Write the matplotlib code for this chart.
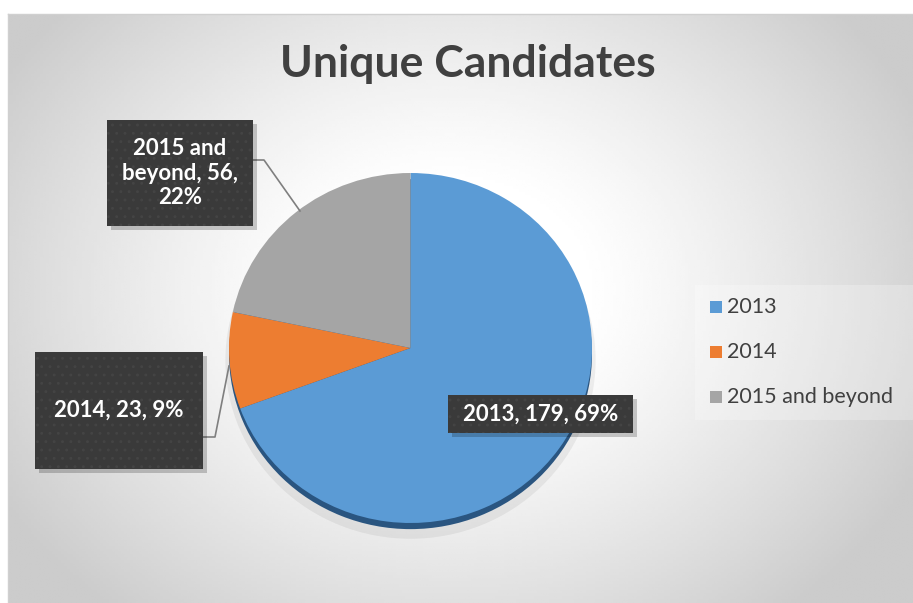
import numpy as np
import matplotlib
matplotlib.use('Agg')
import matplotlib.pyplot as plt
from matplotlib.patches import Rectangle

W, H = 913, 603

categories = ['2013', '2014', '2015 and beyond']
counts = [179, 23, 56]
colors = ['#5B9BD5', '#ED7D31', '#A5A5A5']
title = 'Unique Candidates'

plt.rcParams['font.family'] = ['Lato', 'DejaVu Sans']
plt.rcParams['hatch.linewidth'] = 0.9


def py(y):
    # pixel row (from top) to data y
    return H - y


fig = plt.figure(figsize=(W / 100, H / 100), dpi=100)
fig.patch.set_facecolor('white')
bg = fig.add_axes([0, 0, 1, 1])
bg.set_xlim(0, W)
bg.set_ylim(0, H)
bg.axis('off')

# radial background of the chart area
x0, y0, x1, y1 = 8, 14, W, H
xx, yy = np.meshgrid(np.linspace(x0, x1, 300), np.linspace(y0, y1, 200))
r = np.hypot((xx - 450) / 520, (yy - 290) / 420)
shade = 1 - 0.2 * np.clip((r - 0.25) / 0.75, 0, 1) ** 1.2
bg.imshow(shade, cmap='gray', vmin=0, vmax=1, extent=[x0, x1, py(y1), py(y0)],
          aspect='auto', zorder=0, interpolation='bilinear')
bg.plot([x0, x1], [py(y0), py(y0)], color='#d0d0d0', lw=1, zorder=1)
bg.plot([x0, x0], [py(y0), py(y1)], color='#d0d0d0', lw=1, zorder=1)

bg.text(468, py(64), title, ha='center', va='center', fontsize=32,
        fontweight='bold', color='#404040', zorder=5)

# legend backdrop
bg.add_patch(Rectangle((695, py(420)), 218, 135, facecolor='white', alpha=0.25,
                       lw=0, zorder=2))

# pie in its own axes so it can be slightly elliptical
pl, pt, pw, ph = 229, 173, 363, 350
pax = fig.add_axes([pl / W, (H - pt - ph) / H, pw / W, ph / H])
pax.axis('off')
# dark rim / shadow under the pie
pax.pie([1], colors=['#000000'], radius=1.02, center=(0.0, -0.07),
        wedgeprops=dict(linewidth=0, alpha=0.06))
pax.pie([1], colors=['#2a5580'], radius=1.0, center=(0, -0.035),
        wedgeprops=dict(linewidth=0))
pax.pie(counts, colors=colors, startangle=90, counterclock=False, radius=1.0,
        wedgeprops=dict(linewidth=0))
pax.set_aspect('auto')
pax.set_xlim(-1, 1)
pax.set_ylim(-1, 1)

# overlay for labels and legend
ax = fig.add_axes([0, 0, 1, 1])
ax.set_xlim(0, W)
ax.set_ylim(0, H)
ax.axis('off')
ax.patch.set_alpha(0)

total = sum(counts)
labels = ['{}, {}, {:.0f}%'.format(c, v, 100 * v / total)
          for c, v in zip(categories, counts)]
labels[2] = '2015 and\nbeyond, {},\n{:.0f}%'.format(counts[2], 100 * counts[2] / total)

boxes = [(448, 395, 633, 433), (35, 352, 203, 469), (107, 120, 253, 226)]


def label_box(b, txt):
    l, t, rr, bb = b
    ax.add_patch(Rectangle((l + 4, py(bb) - 4), rr - l, bb - t, facecolor='#000000',
                           alpha=0.2, lw=0, zorder=6))
    ax.add_patch(Rectangle((l, py(bb)), rr - l, bb - t, facecolor='#3a3a3a',
                           edgecolor='#444444', hatch='..', lw=0, zorder=7))
    ax.text((l + rr) / 2, py((t + bb) / 2), txt, ha='center', va='center',
            fontsize=16, fontweight='bold', color='white', zorder=8,
            linespacing=1.2)


for b, txt in zip(boxes, labels):
    label_box(b, txt)

# leader lines
ax.plot([253, 264, 300], [py(160), py(160), py(211)], color='#7f7f7f', lw=1.2, zorder=5)
ax.plot([203, 215, 229], [py(437), py(437), py(366)], color='#7f7f7f', lw=1.2, zorder=5)

# legend
for i, (c, col) in enumerate(zip(categories, colors)):
    yc = 307 + 45 * i
    ax.add_patch(Rectangle((710, py(yc + 6)), 12, 12, facecolor=col, lw=0, zorder=5))
    ax.text(727, py(yc), c, ha='left', va='center', fontsize=15.5,
            color='#404040', zorder=5)

fig.savefig('out.png', dpi=100)
